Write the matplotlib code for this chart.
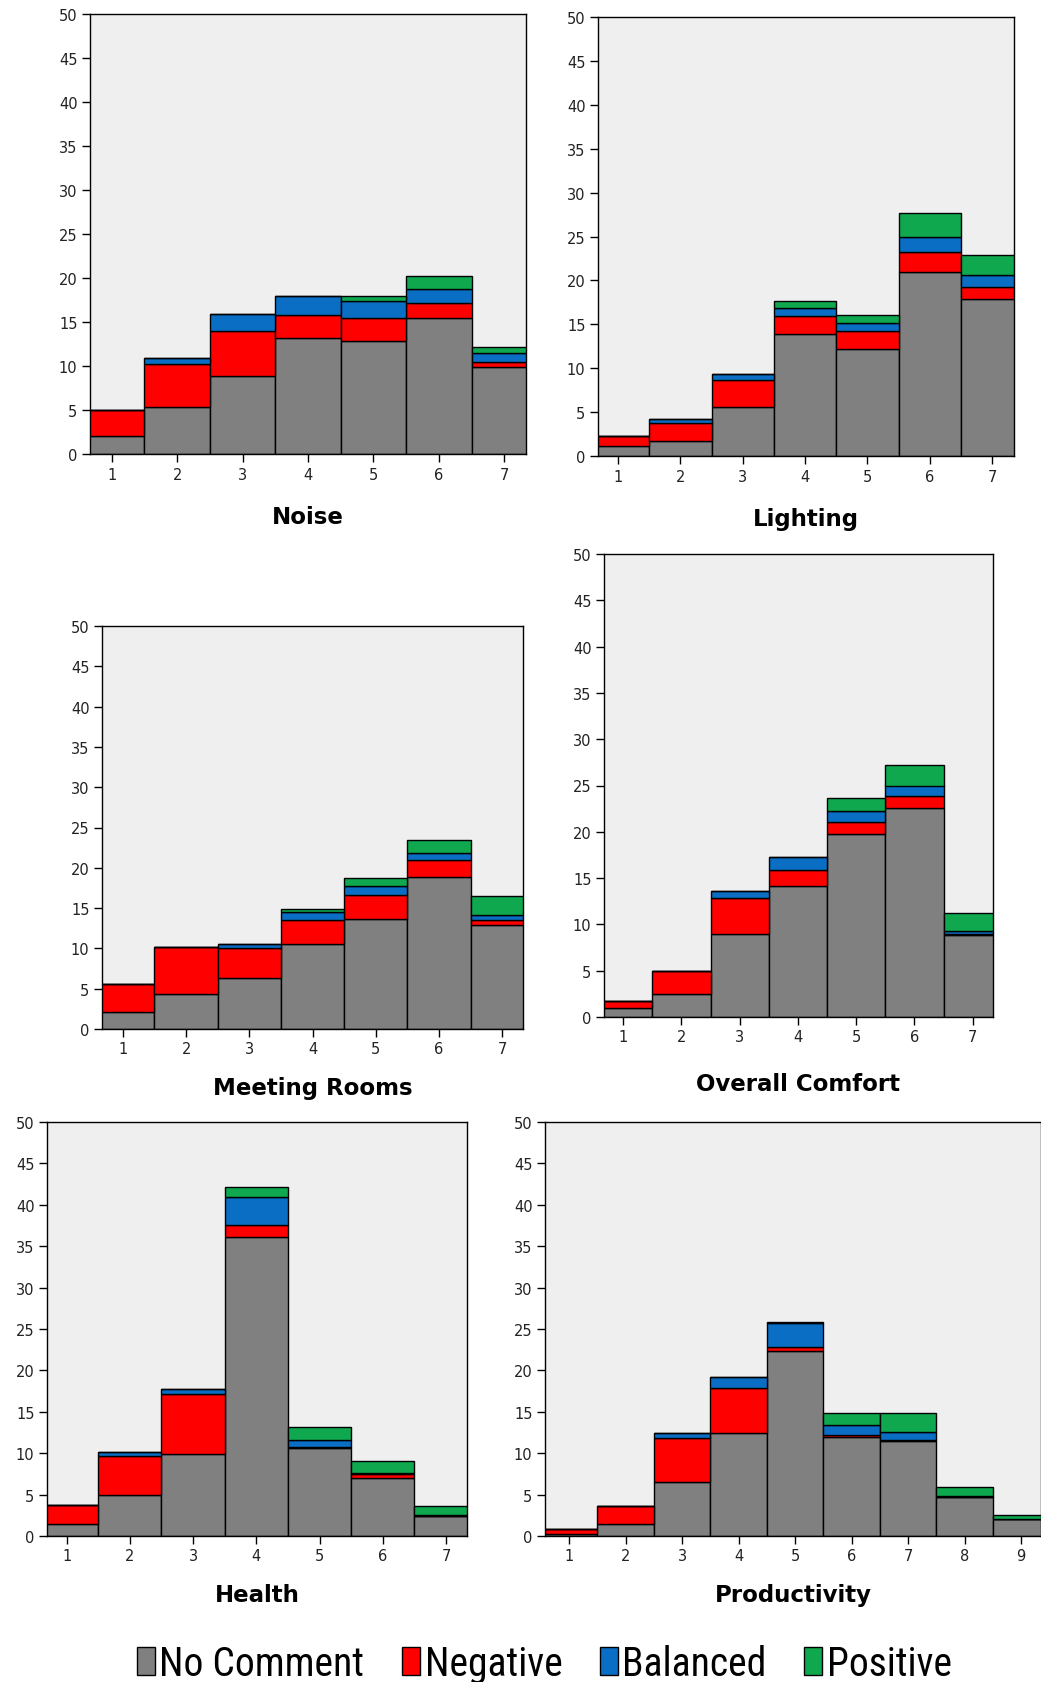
import matplotlib
matplotlib.use('Agg')
import matplotlib.pyplot as plt
from matplotlib.patches import Patch
import numpy as np

W, H = 1041, 1683

CATEGORIES = ['No Comment', 'Negative', 'Balanced', 'Positive']
COLORS = ['#808080', '#ff0000', '#0a6ec4', '#0fa84f']

scores_7 = [1, 2, 3, 4, 5, 6, 7]
scores_9 = [1, 2, 3, 4, 5, 6, 7, 8, 9]

# segment heights (per score) for each comment category
noise_none = [2.0, 5.3, 8.9, 13.2, 12.8, 15.4, 9.9]
noise_neg = [3.0, 4.9, 5.1, 2.6, 2.7, 1.8, 0.6]
noise_bal = [0.0, 0.7, 1.9, 2.2, 1.9, 1.5, 1.0]
noise_pos = [0.0, 0.0, 0.0, 0.0, 0.5, 1.5, 0.7]

lighting_none = [1.1, 1.7, 5.6, 13.9, 12.2, 21.0, 17.9]
lighting_neg = [1.2, 2.1, 3.0, 2.0, 2.0, 2.2, 1.4]
lighting_bal = [0.0, 0.4, 0.7, 0.9, 0.95, 1.8, 1.3]
lighting_pos = [0.0, 0.0, 0.0, 0.8, 0.9, 2.7, 2.3]

meeting_none = [2.1, 4.3, 6.3, 10.5, 13.7, 18.8, 12.9]
meeting_neg = [3.5, 5.9, 3.7, 3.0, 2.9, 2.2, 0.6]
meeting_bal = [0.0, 0.0, 0.6, 1.0, 1.1, 0.8, 0.6]
meeting_pos = [0.0, 0.0, 0.0, 0.4, 1.0, 1.7, 2.4]

comfort_none = [1.0, 2.5, 9.0, 14.2, 19.8, 22.6, 8.9]
comfort_neg = [0.7, 2.5, 3.9, 1.7, 1.3, 1.3, 0.1]
comfort_bal = [0.0, 0.0, 0.7, 1.4, 1.2, 1.1, 0.3]
comfort_pos = [0.0, 0.0, 0.0, 0.0, 1.4, 2.2, 1.9]

health_none = [1.4, 4.9, 9.9, 36.1, 10.6, 7.0, 2.4]
health_neg = [2.4, 4.8, 7.2, 1.5, 0.2, 0.5, 0.0]
health_bal = [0.0, 0.4, 0.7, 3.3, 0.8, 0.1, 0.1]
health_pos = [0.0, 0.0, 0.0, 1.2, 1.6, 1.4, 1.1]

prod_none = [0.2, 1.5, 6.5, 12.5, 22.4, 12.0, 11.5, 4.7, 2.0]
prod_neg = [0.6, 2.1, 5.3, 5.4, 0.4, 0.25, 0.15, 0.0, 0.0]
prod_bal = [0.0, 0.0, 0.65, 1.3, 2.9, 1.15, 0.95, 0.1, 0.0]
prod_pos = [0.0, 0.0, 0.0, 0.0, 0.1, 1.4, 2.3, 1.1, 0.5]

# title, scores, segments, axes box in px (l, t, r, b), xlim, title pad
panels = [
    ('Noise', scores_7, [noise_none, noise_neg, noise_bal, noise_pos],
     (90, 15, 526, 455), (0.67, 7.33), 17),
    ('Lighting', scores_7, [lighting_none, lighting_neg, lighting_bal, lighting_pos],
     (598, 18, 1014, 457), (0.68, 7.35), 17),
    ('Meeting Rooms', scores_7, [meeting_none, meeting_neg, meeting_bal, meeting_pos],
     (102, 627, 523, 1030), (0.67, 7.33), 14),
    ('Overall Comfort', scores_7, [comfort_none, comfort_neg, comfort_bal, comfort_pos],
     (604, 555, 993, 1018), (0.67, 7.35), 20),
    ('Health', scores_7, [health_none, health_neg, health_bal, health_pos],
     (47, 1123, 467, 1537), (0.69, 7.33), 14),
    ('Productivity', scores_9, [prod_none, prod_neg, prod_bal, prod_pos],
     (545, 1123, 1041, 1537), (0.575, 9.35), 14),
]

fig = plt.figure(figsize=(W / 100, H / 100), dpi=100)
fig.patch.set_facecolor('white')

for title, x, segments, box, xlim, pad in panels:
    l, t, r, b = box
    ax = fig.add_axes([l / W, 1 - b / H, (r - l) / W, (b - t) / H])
    ax.set_facecolor('#efefef')
    bottom = np.zeros(len(x))
    for seg, color in zip(segments, COLORS):
        seg = np.array(seg)
        ax.bar(x, seg, width=1.0, bottom=bottom, color=color,
               edgecolor='black', linewidth=1.0)
        bottom += seg
    ax.set_xlim(*xlim)
    ax.set_ylim(0, 50)
    ax.set_yticks(range(0, 51, 5))
    ax.set_xticks(x)
    ax.tick_params(direction='out', length=6, width=1, labelsize=10.5,
                   labelcolor='#222222', pad=3)
    for s in ax.spines.values():
        s.set_color('black')
        s.set_linewidth(1.0)
    ax.set_xlabel(title, fontsize=16.5, fontweight='bold', labelpad=pad)

handles = [Patch(facecolor=c, edgecolor='black', linewidth=1.0) for c in COLORS]
fig.legend(handles, CATEGORIES, loc='lower center', bbox_to_anchor=(0.523, -0.017),
           ncol=4, frameon=False, handlelength=0.45, handleheight=0.72,
           handletextpad=0.12, columnspacing=0.95, borderpad=0.2,
           prop={'family': ['Roboto Condensed', 'PT Sans Narrow', 'Liberation Sans', 'DejaVu Sans'],
                 'size': 28.5})

fig.savefig('out.png', dpi=100)
